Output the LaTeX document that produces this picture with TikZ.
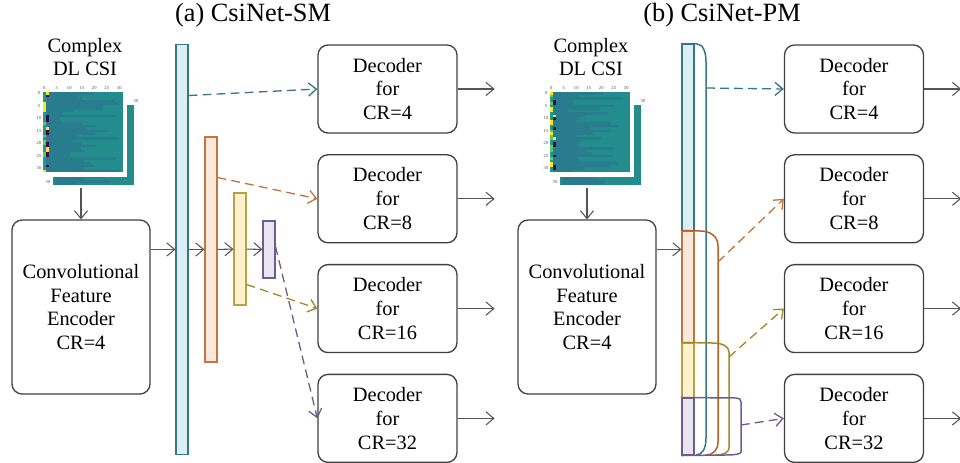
\documentclass[tikz,border=0pt]{standalone}
\usepackage{fontspec}
\setmainfont{Liberation Serif}
\usetikzlibrary{positioning,calc,arrows.meta}

\definecolor{barblue}{RGB}{218,238,243}
\definecolor{lineblue}{RGB}{55,118,133}
\definecolor{barorange}{RGB}{252,232,218}
\definecolor{lineorange}{RGB}{192,118,66}
\definecolor{darkorange}{RGB}{185,95,35}
\definecolor{baryellow}{RGB}{255,242,204}
\definecolor{lineyellow}{RGB}{160,138,40}
\definecolor{baryellowline}{RGB}{185,160,70}
\definecolor{barpurple}{RGB}{232,228,240}
\definecolor{linepurple}{RGB}{110,92,145}
\definecolor{boxgray}{RGB}{64,64,64}
\definecolor{flowgray}{RGB}{85,85,85}
% viridis-like colours for the CSI maps
\definecolor{hm0}{RGB}{35,140,141}
\definecolor{hm1}{RGB}{40,124,142}
\definecolor{hm2}{RGB}{253,231,37}
\definecolor{hm3}{RGB}{68,1,84}
\definecolor{hm4}{RGB}{94,201,98}
\definecolor{hm5}{RGB}{30,155,138}

\begin{document}
\begin{tikzpicture}
  [x=0.02cm,y=-0.02cm,
  >={Straight Barb[length=4.5pt,width=7.5pt]},
  txt/.style={font=\rmfamily\fontsize{11.6pt}{13.6pt}\selectfont,align=center},
  title/.style={font=\rmfamily\fontsize{15pt}{18pt}\selectfont},
  tick/.style={font=\fontsize{2.6pt}{3pt}\selectfont,inner sep=0pt,text=black!70},
  decbox/.style={txt,draw=boxgray,line width=0.75pt,rounded corners=0.2cm,inner sep=0pt,minimum width=2.78cm,minimum height=1.76cm},
  encbox/.style={decbox,minimum width=2.76cm,minimum height=3.48cm},
  bar/.style={rectangle,inner sep=0pt,minimum width=0.24cm,line width=0.6pt},
  layer/.style={line width=0.85pt},
  flow/.style={->,draw=flowgray,line width=0.6pt},
  skip/.style={->,dash pattern=on 5pt off 3pt,line width=0.75pt}]
  \useasboundingbox (0,0) rectangle (960,463);

  \node[title] (titleA) at (253,15) {(a) CsiNet-SM};
  \node[title] (titleB) at (722,15) {(b) CsiNet-PM};

  \node[txt] (csiA) at (85,57) {Complex\\DL CSI};
  \node[txt] (csiB) at (591,57) {Complex\\DL CSI};

  % the two CSI maps (front and back sheet)
  \pgfmathsetseed{11}
  \foreach \ox in {0,507}{
    \begin{scope}[shift={(\ox,0)}]
      \fill[white] (45,97) rectangle (140,190);
      \fill[hm0] (53,105) rectangle (134,185);
      \foreach \r in {0,...,31}{
        \pgfmathsetmacro\len{random(20,55)}
        \fill[hm1] (55,105+2.5*\r) rectangle (55+\len,107.5+2.5*\r);
      }
      \node[tick] (back\ox a) at (136,101) {30};
      \node[tick] (back\ox b) at (48,182) {30};
      \fill[white] (35,84) rectangle (127,177);
      \fill[hm0] (43,92) rectangle (123,172);
      \foreach \r in {0,...,31}{
        \pgfmathsetmacro\len{random(10,70)}
        \pgfmathtruncatemacro\sa{random(0,9)}
        \pgfmathtruncatemacro\sb{random(0,9)}
        \pgfmathtruncatemacro\ca{\sa<2 ? 2 : (\sa<4 ? 4 : 5)}
        \pgfmathtruncatemacro\cb{\sb<3 ? 3 : (\sb<4 ? 2 : 1)}
        \fill[hm1] (49,92+2.5*\r) rectangle (49+\len,94.5+2.5*\r);
        \fill[hm\ca] (43,92+2.5*\r) rectangle (46,94.5+2.5*\r);
        \fill[hm\cb] (46,92+2.5*\r) rectangle (49,94.5+2.5*\r);
      }
      \foreach \k in {0,5,...,30}{
        \node[tick] (top\ox\k) at (44.25+2.5*\k,88) {\k};
        \node[tick] (left\ox\k) at (39,93.25+2.5*\k) {\k};
      }
    \end{scope}
  }
  \coordinate (mapA) at (81,188);
  \coordinate (mapB) at (587,188);

  \node[encbox] (encA) at (81,307) {Convolutional\\Feature\\Encoder\\CR=4};
  \node[encbox] (encB) at (587,307) {Convolutional\\Feature\\Encoder\\CR=4};
  \draw[flow] (mapA) -- (encA);
  \draw[flow] (mapB) -- (encB);

  % (a) separate codeword branches
  \node[bar,draw=lineblue,fill=barblue,minimum height=8.22cm] (blueA) at (182,249.5) {};
  \node[bar,draw=lineorange,fill=barorange,minimum height=4.5cm] (orangeA) at (211,249.5) {};
  \node[bar,draw=baryellowline,fill=baryellow,minimum height=2.24cm] (yellowA) at (240,249) {};
  \node[bar,draw=linepurple,fill=barpurple,minimum height=1.14cm] (purpleA) at (269,249.5) {};

  \draw[flow] (encA.east |- blueA.west) -- (blueA.west);
  \draw[flow] (blueA) -- (orangeA);
  \draw[flow] (orangeA) -- (yellowA);
  \draw[flow] (yellowA) -- (purpleA);

  \node[decbox] (dec1) at (387.5,89) {Decoder\\for\\CR=4};
  \node[decbox,below=0.41cm of dec1] (dec2) {Decoder\\for\\CR=8};
  \node[decbox,below=0.41cm of dec2] (dec3) {Decoder\\for\\CR=16};
  \node[decbox,below=0.41cm of dec3] (dec4) {Decoder\\for\\CR=32};

  \coordinate (tapA1) at ($(blueA.north east)+(0,52)$);
  \coordinate (tapA2) at ($(orangeA.north east)+(0,41)$);
  \coordinate (tapA3) at ($(yellowA.north east)+(0,92)$);
  \coordinate (tapA4) at ($(purpleA.north east)+(0,26)$);
  \draw[skip,lineblue] (tapA1) -- (dec1.west);
  \draw[skip,lineorange] (tapA2) -- (dec2.west);
  \draw[skip,lineyellow] (tapA3) -- (dec3.west);
  \draw[skip,linepurple] (tapA4) -- (dec4.west);

  % (b) nested codeword, one stacked bar
  \node[bar,draw=lineblue,fill=barblue,minimum height=3.74cm] (segBlue) at (688,137.5) {};
  \node[bar,draw=lineorange,fill=barorange,minimum height=2.24cm] (segOrange) at (688,287) {};
  \node[bar,draw=baryellowline,fill=baryellow,minimum height=1.1cm] (segYellow) at (688,370.5) {};
  \node[bar,draw=linepurple,fill=barpurple,minimum height=1.14cm] (segPurple) at (688,426.5) {};

  \draw[layer,lineblue] (segBlue.north east) -- (697,44) .. controls (703,44) and (706,52) .. (706,62)
    -- (706,438) .. controls (706,449) and (702,455) .. (696,455);
  \draw[layer,darkorange] (segOrange.north west) -- (700,231) .. controls (710,231) and (718,236) .. (718,246)
    -- (718,442) .. controls (718,450) and (713,455) .. (706,455);
  \draw[layer,lineyellow] (segYellow.north west) -- (712,343) .. controls (722,343) and (729,346) .. (729,352)
    -- (729,448) .. controls (729,452) and (724,455) .. (716,455);
  \draw[layer,linepurple] (segPurple.north west) -- (736,398) .. controls (739,398) and (741,399) .. (741,402)
    -- (741,452) .. controls (741,454) and (735,455) .. (725,455) -- (segPurple.south west);

  \coordinate (inB) at ($(encB.north east)+(0,30)$);
  \draw[flow] (inB) -- (inB -| segOrange.west);

  \node[decbox] (dec5) at (854,89) {Decoder\\for\\CR=4};
  \node[decbox,below=0.41cm of dec5] (dec6) {Decoder\\for\\CR=8};
  \node[decbox,below=0.41cm of dec6] (dec7) {Decoder\\for\\CR=16};
  \node[decbox,below=0.41cm of dec7] (dec8) {Decoder\\for\\CR=32};

  \coordinate (tapB1) at (706,88);
  \coordinate (tapB2) at (718,262);
  \coordinate (tapB3) at (729,357);
  \coordinate (tapB4) at (741,425);
  \draw[skip,lineblue] (tapB1) -- (dec5.west);
  \draw[skip,lineorange] (tapB2) -- (dec6.west);
  \draw[skip,lineyellow] (tapB3) -- (dec7.west);
  \draw[skip,linepurple] (tapB4) -- (dec8.west);

  % outputs of every decoder
  \foreach \i in {1,...,8}{
    \coordinate (out\i) at ($(dec\i.east)+(37,0)$);
    \draw[flow] (dec\i) -- (out\i);
  }
\end{tikzpicture}
\end{document}
